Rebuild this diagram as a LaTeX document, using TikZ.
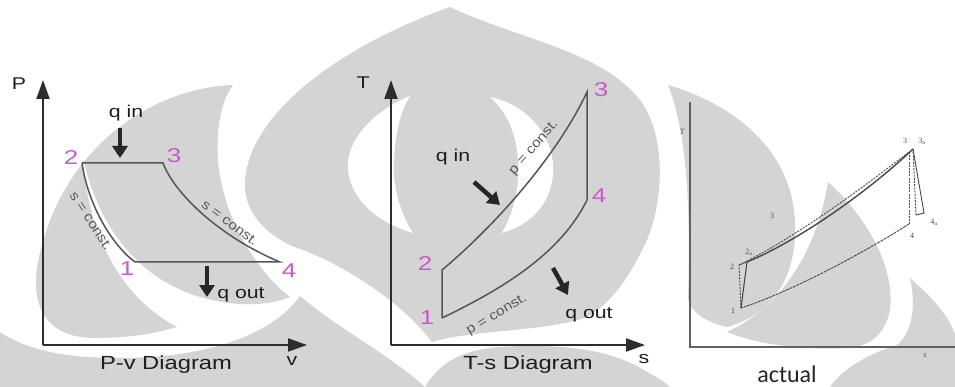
\documentclass[tikz,border=0pt]{standalone}
\usepackage{fontspec}
\setmainfont{Liberation Sans}
\newfontfamily\actfont{Carlito}
\newfontfamily\serfont{Liberation Serif}
\usetikzlibrary{arrows.meta}
\definecolor{wmgray}{RGB}{212,212,212}
\definecolor{axcol}{RGB}{45,45,45}
\definecolor{cyccol}{RGB}{85,85,85}
\definecolor{numcol}{RGB}{200,90,205}
\definecolor{txtcol}{RGB}{30,30,30}
\begin{document}
\begin{tikzpicture}[x=1pt,y=-1pt,
  wm/.style={fill=wmgray,draw=none},
  wmw/.style={fill=white,draw=none},
  axisline/.style={draw=axcol,line width=2pt},
  axarrow/.style={axisline,-{Triangle[length=19pt,width=13pt]}},
  cyc/.style={draw=cyccol,line width=1.5pt},
  heat/.style={draw=black!85,line width=4.5pt,-{Triangle[length=12pt,width=15pt]}},
  txt/.style={text=txtcol,inner sep=0pt,xscale=1.25},
  big/.style={txt,font=\fontsize{19}{19}\selectfont},
  mid/.style={txt,font=\fontsize{17}{17}\selectfont},
  num/.style={inner sep=0pt,xscale=1.3,text=numcol,font=\fontsize{20}{20}\selectfont},
  cst/.style={inner sep=0pt,text=black!65,font=\fontsize{13.5}{13.5}\selectfont},
  act/.style={draw=black!72,line width=0.9pt},
  actd/.style={act,dash pattern=on 2pt off 1.2pt},
  actf/.style={act,dash pattern=on 3pt off 0.8pt},
  tiny/.style={inner sep=0pt,text=black!70,font=\serfont\fontsize{8}{8}\selectfont}
]
\fill[white] (0,0) rectangle (955,387);
\useasboundingbox (0,0) rectangle (955,387);

% ---------------- watermark ----------------
% left flame
\path[wm] (233,85) .. controls (150,88) and (60,150) .. (38,262)
  .. controls (30,305) and (45,338) .. (95,338)
  .. controls (135,338) and (160,332) .. (177,327)
  .. controls (125,300) and (88,240) .. (83,158)
  .. controls (100,235) and (150,298) .. (240,304)
  .. controls (262,305) and (278,302) .. (290,297)
  .. controls (255,270) and (222,215) .. (218,160)
  .. controls (216,125) and (222,100) .. (233,85) -- cycle;
% bottom left band
\path[wm] (0,332) .. controls (30,352) and (70,358) .. (120,358)
  .. controls (200,358) and (270,338) .. (300,296)
  .. controls (340,330) and (390,355) .. (425,387) -- (0,387) -- cycle;
% big centre shape
\path[wm] (245,185) .. controls (245,120) and (330,50) .. (450,7)
  .. controls (520,40) and (600,50) .. (640,100)
  .. controls (670,140) and (662,215) .. (642,250)
  .. controls (625,285) and (605,308) .. (585,318)
  .. controls (540,332) and (470,330) .. (432,342)
  .. controls (400,300) and (340,262) .. (292,246)
  .. controls (262,232) and (245,210) .. (245,185) -- cycle;
% bottom centre band
\path[wm] (425,387) .. controls (440,362) and (462,350) .. (500,347)
  .. controls (560,343) and (610,350) .. (640,368)
  .. controls (655,376) and (665,382) .. (670,387) -- cycle;
% white crescents inside the centre shape
\path[wmw] (410,96) .. controls (375,110) and (345,140) .. (348,170)
  .. controls (352,205) and (385,225) .. (413,233)
  .. controls (398,210) and (392,180) .. (394,160)
  .. controls (395,135) and (400,112) .. (410,96) -- cycle;
\path[wmw] (490,97) .. controls (530,105) and (556,140) .. (553,175)
  .. controls (550,205) and (530,225) .. (502,233)
  .. controls (515,210) and (520,185) .. (518,160)
  .. controls (516,130) and (505,110) .. (490,97) -- cycle;
% right panel flames
\path[wm] (668,85) .. controls (720,100) and (790,140) .. (795,220)
  .. controls (798,280) and (770,315) .. (727,327)
  .. controls (705,322) and (692,312) .. (688,300)
  .. controls (690,230) and (690,140) .. (668,85) -- cycle;
\path[wm] (828,182) .. controls (870,220) and (895,270) .. (890,310)
  .. controls (885,335) and (870,345) .. (850,348)
  .. controls (800,350) and (760,345) .. (727,332)
  .. controls (775,310) and (815,260) .. (828,182) -- cycle;
\path[wm] (910,278) .. controls (935,300) and (950,318) .. (955,335)
  -- (955,387) -- (830,387) .. controls (845,365) and (875,352) .. (897,345)
  .. controls (915,330) and (915,300) .. (910,278) -- cycle;

% ---------------- P-v diagram ----------------
\coordinate (pvO) at (43,345);
\coordinate (pvY) at (43,80);
\coordinate (pvX) at (307,345);
\draw[axarrow] (pvO) -- (pvY);
\draw[axarrow] (pvO) -- (pvX);
\coordinate (pv1) at (135,262);
\coordinate (pv2) at (82,163);
\coordinate (pv3) at (163,163);
\coordinate (pv4) at (280,262);
\draw[cyc] (pv2) -- (pv3) .. controls (175,195) and (222,238) .. (pv4) -- (pv1)
  .. controls (112,245) and (88,205) .. (pv2);
\node[mid] (pvP) at (19,84) {P};
\node[mid] (pvv) at (292,361) {v};
\node[big] (pvcap) at (166,365) {P-v Diagram};
\node[num] (pvn2) at (71,158) {2};
\node[num] (pvn3) at (174,156) {3};
\node[num] (pvn1) at (127,269) {1};
\node[num] (pvn4) at (289,271) {4};
\node[mid] (pvqin) at (126,113) {q in};
\coordinate (pvqa) at (120,128);
\coordinate (pvqb) at (120,158);
\draw[heat] (pvqa) -- (pvqb);
\node[mid] (pvqout) at (241,295) {q out};
\coordinate (pvqc) at (207,266);
\coordinate (pvqd) at (207,297);
\draw[heat] (pvqc) -- (pvqd);
\node[cst,rotate=-57,xscale=1.15] (pvs1) at (91,221) {s = const.};
\node[cst,rotate=-37,xscale=1.15] (pvs2) at (230,223) {s = const.};

% ---------------- T-s diagram ----------------
\coordinate (tsO) at (391,345);
\coordinate (tsY) at (391,80);
\coordinate (tsX) at (645,345);
\draw[axarrow] (tsO) -- (tsY);
\draw[axarrow] (tsO) -- (tsX);
\coordinate (ts1) at (442,318);
\coordinate (ts2) at (442,270);
\coordinate (ts3) at (587,92);
\coordinate (ts4) at (587,200);
\draw[cyc] (ts1) -- (ts2) .. controls (490,230) and (555,160) .. (ts3) -- (ts4)
  .. controls (560,255) and (500,290) .. (ts1);
\node[mid] (tsT) at (363,83) {T};
\node[mid] (tss) at (644,359) {s};
\node[big] (tscap) at (528,365) {T-s Diagram};
\node[num] (tsn2) at (425,264) {2};
\node[num] (tsn1) at (427,318) {1};
\node[num] (tsn3) at (601,90) {3};
\node[num] (tsn4) at (599,196) {4};
\node[mid] (tsqin) at (453,157) {q in};
\coordinate (tsqa) at (474,182);
\coordinate (tsqb) at (500,205);
\draw[heat] (tsqa) -- (tsqb);
\node[mid] (tsqout) at (589,315) {q out};
\coordinate (tsqc) at (553,268);
\coordinate (tsqd) at (568,295);
\draw[heat] (tsqc) -- (tsqd);
\node[cst,rotate=49,xscale=1.15] (tsp1) at (534,148) {p = const.};
\node[cst,rotate=31,xscale=1.15] (tsp2) at (497,315) {p = const.};

% ---------------- actual cycle ----------------
\coordinate (acO) at (690,347);
\coordinate (acY) at (690,102);
\coordinate (acX) at (955,347);
\draw[draw=black!62,line width=2pt] (acY) -- (acO) -- (acX);
\coordinate (a1) at (741,308);
\coordinate (a2) at (739,265);
\coordinate (a2a) at (747,262);
\coordinate (a3) at (909,152);
\coordinate (a3a) at (913,149);
\coordinate (a4) at (909,224);
\coordinate (a4a) at (924,213);
\coordinate (a4b) at (916,215);
\draw[act,line width=1.4pt] (a2a) .. controls (800,240) and (870,190) .. (a3a);
\draw[actd] (a2) .. controls (797,237) and (866,185) .. (a3);
\draw[act,line width=1.1pt] (a1) -- (a2a);
\draw[actd] (a1) -- (a2) -- (a2a);
\draw[actd] (a3) -- (a4);
\draw[actd] (a3a) -- (a4b);
\draw[act] (a3a) -- (a4a) -- (a4b);
\draw[actf] (a4) .. controls (860,255) and (790,292) .. (a1);
\node[tiny] (acn1) at (733,311) {1};
\node[tiny] (acn2) at (732,267) {2};
\node[tiny] (acn2a) at (749,252) {2\textsubscript{a}};
\node[tiny] (acn3) at (905,141) {3};
\node[tiny] (acn3a) at (922,141) {3\textsubscript{a}};
\node[tiny] (acn4) at (912,236) {4};
\node[tiny] (acn4a) at (934,222) {4\textsubscript{a}};
\node[tiny] (acn3s) at (772,216) {3};
\node[tiny,font=\serfont\itshape\fontsize{8}{8}\selectfont] (acT) at (682,132) {T};
\node[tiny,font=\serfont\itshape\fontsize{8}{8}\selectfont] (acs) at (925,356) {s};
\node[inner sep=0pt,text=black!85,font=\actfont\fontsize{24}{24}\selectfont] (accap) at (787,374) {actual};
\end{tikzpicture}
\end{document}
